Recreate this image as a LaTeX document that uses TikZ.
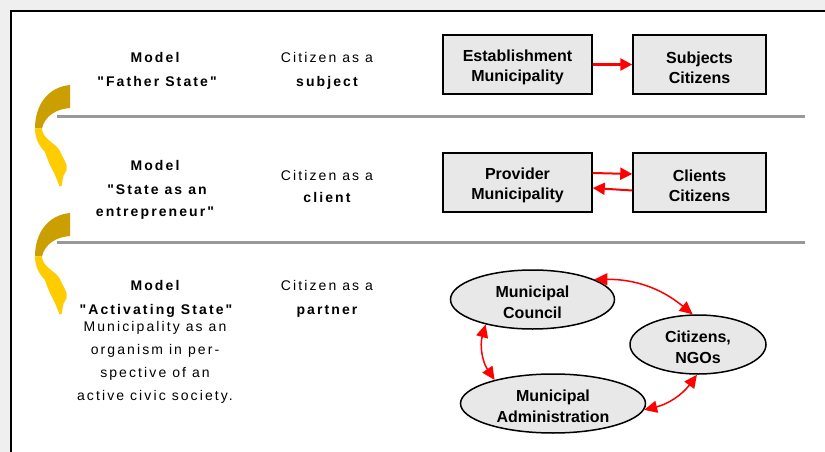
\documentclass[tikz,border=0pt]{standalone}
\usepackage{fontspec}
\setmainfont{Liberation Sans}
\newfontfamily\widefont[LetterSpace=15]{Liberation Sans}
\usetikzlibrary{shapes.geometric,arrows.meta}
\definecolor{panelgray}{HTML}{EFEFEF}
\definecolor{boxfill}{HTML}{E8E8E8}
\definecolor{rulegray}{HTML}{999999}
\definecolor{golddark}{HTML}{CC9F00}
\definecolor{goldlight}{HTML}{FFCC00}
\newcommand\lift{\rule{0pt}{17.5pt}}

\begin{document}
\begin{tikzpicture}[x=1pt,y=-1pt,
  box/.style={rectangle,draw,line width=1.5pt,fill=boxfill,minimum height=59pt,align=center,
    font=\bfseries\fontsize{16}{20}\selectfont},
  oval/.style={ellipse,draw,line width=1.5pt,fill=boxfill,minimum height=59pt,inner sep=0pt,align=center,
    font=\bfseries\fontsize{16}{20.5}\selectfont},
  lbl/.style={anchor=base,font=\widefont\fontsize{14}{17}\selectfont},
  blbl/.style={anchor=base,font=\widefont\bfseries\fontsize{14}{17}\selectfont},
  flow/.style={red,line width=2.5pt,-{Triangle[length=12pt,width=12pt]}},
  back/.style={red,line width=2pt,-{Triangle[length=12pt,width=12pt]}},
  dbl/.style={red,line width=1.5pt,{Triangle[length=13pt,width=12pt]}-{Triangle[length=13pt,width=12pt]}}]
\def\rowA{64.5}
\def\rowB{182.5}
\useasboundingbox (0,0) rectangle (825,452);
\fill[panelgray] (0,0) rectangle (825,452);
\draw[line width=2pt,fill=white] (11,11) rectangle (845,470);

% gold turn arrows
\foreach \dy in {0,128}{
  \begin{scope}[yshift=-\dy pt]
  \fill[golddark] (70,85) -- (70,108) .. controls (56,109) and (45,116) .. (42,128.3)
    -- (35,128.3) .. controls (35,105) and (48,87) .. (70,85) -- cycle;
  \fill[goldlight] (35,128.3) .. controls (35,138) and (39,146) .. (45,152)
    -- (47,158) -- (50,165) -- (55,175) -- (59.5,186) -- (61.7,186) -- (63.3,176)
    -- (66.7,170) -- (66.7,165) -- (62.7,156.7) -- (59.3,150) -- (56.7,146.7)
    .. controls (50,141) and (42,136) .. (42,128.3) -- cycle;
  \end{scope}
}

% separators
\draw[rulegray,line width=3pt] (57,116.5) -- (805,116.5);
\draw[rulegray,line width=3pt] (57,242.5) -- (805,242.5);

% left columns
\path
(155,62.3) node [blbl] (mA) {Model}
(157,86) node [blbl] (nA) {"Father State"}
(327,62.3) node [lbl] (cA) {Citizen as a}
(327,86) node [blbl] (sA) {subject}
(155,170) node [blbl] (mB) {Model}
(157,194) node [blbl] (nB) {"State as an}
(155,216) node [blbl] (eB) {entrepreneur"}
(327,180) node [lbl] (cB) {Citizen as a}
(327,202) node [blbl] (sB) {client}
(155,290) node [blbl] (mC) {Model}
(156,314) node [blbl] (nC) {"Activating State"}
(155,331.7) node [lbl] (dC1) {Municipality as an}
(155,354) node [lbl] (dC2) {organism in per-}
(155,377.7) node [lbl] (dC3) {spective of an}
(155,400) node [lbl] (dC4) {active civic society.}
(327,290) node [lbl] (cC) {Citizen as a}
(327,314) node [blbl] (sC) {partner}
;

% row 1 and row 2 boxes
\node[box,minimum width=149pt] (estab) at (517.5,\rowA) {\lift Establishment\\Municipality};
\node[box,minimum width=133pt] (subj) at (699.5,\rowA) {\lift Subjects\\Citizens};
\node[box,minimum width=149pt] (prov) at (517.5,\rowB) {\lift Provider\\Municipality};
\node[box,minimum width=133pt] (clients) at (699.5,\rowB) {\lift Clients\\Citizens};
\draw[flow] (estab) -- (subj);
\draw[back] ([yshift=9.5pt]prov.east) -- ([yshift=8.5pt]clients.west);
\draw[back] ([yshift=-8pt]clients.west) -- ([yshift=-5.5pt]prov.east);

% row 3 cycle
\node[oval,minimum width=164pt] (council) at (532.5,299.5) {\lift Municipal\\Council};
\node[oval,minimum width=136pt] (citizens) at (698,344.5) {\lift Citizens,\\NGOs};
\node[oval,minimum width=185pt] (admin) at (553,403.5) {\lift Municipal\\Administration};
\draw[dbl] (council.18) to[bend left=20] (citizens.100);
\draw[dbl] (council.208) to[bend right=25] (admin.158);
\draw[dbl] (citizens.268) to[bend left=20] (admin.356);
\end{tikzpicture}
\end{document}
